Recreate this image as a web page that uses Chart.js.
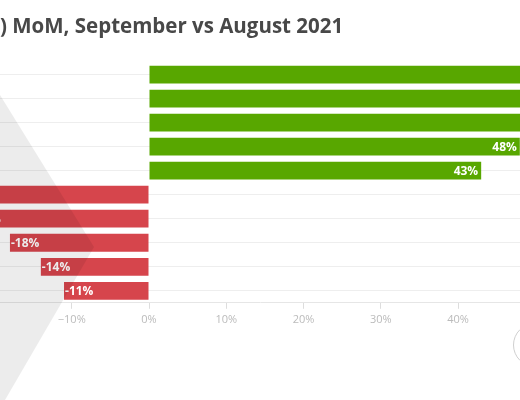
<!DOCTYPE html>
<html>
<head>
<meta charset="utf-8">
<script src="https://cdn.jsdelivr.net/npm/chart.js@4"></script>
<style>
  html, body { margin: 0; padding: 0; background: #fff; }
  #wrap { position: relative; width: 520px; height: 400px; overflow: hidden; }
  #shade {
    position: absolute; left: 0; top: 0; width: 520px; height: 400px;
    background: rgba(0, 0, 0, 0.075);
    clip-path: polygon(0px 95px, 94px 247px, 5px 400px, 0px 400px);
    pointer-events: none;
  }
  #ring {
    position: absolute; left: 513px; top: 323px; width: 42px; height: 42px;
    border: 1.5px solid #cfcfcf; border-radius: 50%;
  }
</style>
</head>
<body>
<div id="wrap">
  <canvas id="myChart" width="520" height="400"></canvas>
  <div id="shade"></div>
  <div id="ring"></div>
</div>
<script>
// rows top to bottom, labels are cut off in the reference
const categories = ["1", "2", "3", "4", "5", "6", "7", "8", "9", "10"];
const changes = [70, 62, 55, 48, 43, -30, -23, -18, -14, -11];
const xTicks = [-10, 0, 10, 20, 30, 40];
const titleText = ") MoM, September vs August 2021";

const barColors = changes.map((v) => (v >= 0 ? "#58a700" : "#d6454c"));

// value labels inside the bar ends
const barLabels = {
	id: "barLabels",
	afterDatasetsDraw(chart) {
		const ctx = chart.ctx;
		const meta = chart.getDatasetMeta(0);
		ctx.save();
		ctx.font = "bold 12px 'Open Sans'";
		ctx.fillStyle = "#fff";
		ctx.textBaseline = "middle";
		meta.data.forEach((bar, i) => {
			const v = changes[i];
			if (v >= 0) {
				ctx.textAlign = "right";
				ctx.fillText(v + "%", bar.x - 3, bar.y + 1);
			} else {
				ctx.textAlign = "left";
				ctx.fillText(v + "%", bar.x + 1, bar.y + 1);
			}
		});
		ctx.restore();
	},
};

const ctx = document.getElementById("myChart").getContext("2d");
const myChart = new Chart(ctx, {
	type: "bar",
	data: {
		labels: categories,
		datasets: [
			{
				data: changes,
				backgroundColor: barColors,
				borderWidth: 0,
				categoryPercentage: 1,
				barPercentage: 0.74,
			},
		],
	},
	options: {
		indexAxis: "y",
		responsive: false,
		animation: false,
		layout: { padding: { left: 0, right: 0, top: 0, bottom: 70 } },
		plugins: {
			legend: { display: false },
			tooltip: { enabled: false },
			title: {
				display: true,
				text: titleText,
				align: "start",
				color: "#484848",
				font: { family: "Open Sans", size: 20.5, weight: "bold" },
				padding: { top: 15, bottom: 23 },
			},
		},
		scales: {
			x: {
				min: -149 / 7.725,
				max: 371 / 7.725,
				afterBuildTicks: (axis) => {
					axis.ticks = xTicks.map((v) => ({ value: v }));
				},
				border: { display: true, color: "#e6e6e6" },
				grid: { drawOnChartArea: false, drawTicks: true, tickLength: 6, color: "#dddddd" },
				ticks: {
					padding: 4,
					color: "#bbbbbb",
					font: { family: "Open Sans", size: 11 },
					callback: (v) => (v < 0 ? "\u2212" + Math.abs(v) : v) + "%",
				},
			},
			y: {
				display: true,
				grid: { offset: false, color: "#eeeeee", drawTicks: false },
				border: { display: false },
				ticks: { display: false },
			},
		},
	},
	plugins: [barLabels],
});
</script>
</body>
</html>
